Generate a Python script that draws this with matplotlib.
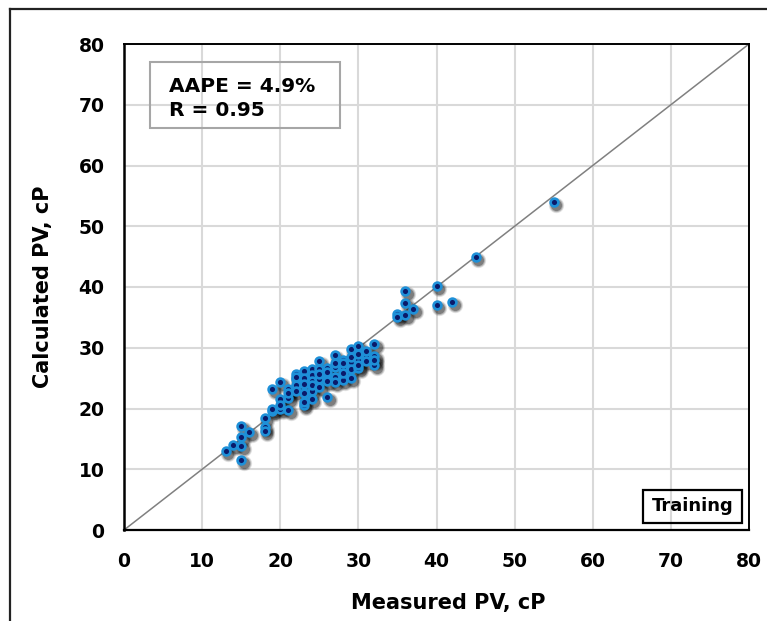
import matplotlib
matplotlib.use("Agg")
import matplotlib.pyplot as plt
import matplotlib.transforms as mtransforms
from matplotlib.lines import Line2D
from matplotlib.patches import Rectangle

# Data
measured = [13, 14, 15, 15, 15, 15, 16, 18, 18, 18, 19, 19, 19, 20, 20, 20, 20,
            21, 21, 21, 21, 22, 22, 22, 22, 22, 23, 23, 23, 23, 23, 23,
            24, 24, 24, 24, 24, 24, 25, 25, 25, 25, 25, 26, 26, 26, 26, 26,
            27, 27, 27, 27, 27, 28, 28, 28, 28, 28, 29, 29, 29, 29, 29,
            30, 30, 30, 30, 30, 31, 31, 31, 32, 32, 32, 32,
            35, 35, 36, 36, 36, 37, 40, 40, 42, 45, 55]
calculated = [13.0, 14.0, 13.8, 11.6, 15.3, 17.2, 16.1, 18.4, 16.9, 16.3, 23.2, 19.6, 19.9,
              24.4, 21.5, 19.9, 20.5, 23.2, 21.7, 19.8, 22.5, 25.7, 24.8, 23.9, 22.9, 25.2,
              26.2, 25.1, 24.0, 22.6, 20.6, 21.0, 26.5, 25.5, 24.6, 22.9, 21.5, 23.8,
              27.8, 26.5, 24.8, 23.5, 25.6, 26.7, 21.9, 25.5, 24.5, 26.0,
              28.8, 26.8, 25.2, 24.3, 27.5, 26.9, 24.7, 25.8, 28.0, 27.5,
              29.8, 27.6, 26.5, 25.0, 28.4, 30.3, 28.0, 26.6, 27.2, 29.0,
              28.8, 27.8, 29.5, 30.6, 28.7, 27.2, 28.0,
              35.6, 35.1, 39.3, 37.4, 35.4, 36.4, 40.2, 37.0, 37.5, 45.0, 54.0]
ticks = [0, 10, 20, 30, 40, 50, 60, 70, 80]
line_xy = [0, 80]

W, H = 767, 621
fig = plt.figure(figsize=(W/100, H/100), dpi=100)
L, R, T, B = 124, 749, 44, 530
ax = fig.add_axes([L/W, 1-B/H, (R-L)/W, (B-T)/H])

def axx(px):
    return (px - L) / (R - L)

def axy(py):
    return (B - py) / (B - T)

ax.set_xlim(0, 80)
ax.set_ylim(0, 80)
ax.set_xticks(ticks)
ax.set_yticks(ticks)
ax.grid(True, color='#d9d9d9', linewidth=1.5)
ax.set_axisbelow(True)
ax.tick_params(length=0, labelsize=13.5)
ax.tick_params(axis='y', pad=14)
ax.tick_params(axis='x', pad=16)
for lab in ax.get_xticklabels() + ax.get_yticklabels():
    lab.set_fontweight('bold')
for s in ax.spines.values():
    s.set_color('black')
    s.set_linewidth(1.4)
ax.spines['left'].set_linewidth(1.8)
ax.spines['bottom'].set_linewidth(1.6)

ax.plot(line_xy, line_xy, color='#808080', linewidth=1.1, zorder=2)

# soft shadow (layers)
shadow_tr = mtransforms.offset_copy(ax.transData, fig=fig, x=1.8, y=-2.2, units='points')
for ms, a in [(11.0, 0.12), (9.5, 0.20), (8.0, 0.30)]:
    ax.plot(measured, calculated, linestyle='none', marker='o', markersize=ms,
            markerfacecolor='#000000', markeredgecolor='none', alpha=a,
            transform=shadow_tr, zorder=3)
ax.plot(measured, calculated, linestyle='none', marker='o', markersize=5.6,
        markerfacecolor='#0a1a6a', markeredgecolor='#1e90d8', markeredgewidth=1.9,
        zorder=4)

ax.set_xlabel('Measured PV, cP', fontsize=15, fontweight='bold')
ax.set_ylabel('Calculated PV, cP', fontsize=15, fontweight='bold')
ax.xaxis.set_label_coords(axx(448), axy(603))
ax.xaxis.label.set_va('center')
ax.yaxis.set_label_coords(axx(43), 0.5)
ax.yaxis.label.set_va('center')

# AAPE box
ax.add_patch(Rectangle((axx(150), axy(128)), axx(340) - axx(150), axy(62) - axy(128),
                       transform=ax.transAxes, facecolor='none', edgecolor='#a6a6a6',
                       linewidth=1.5, zorder=5))
ax.text(axx(169), axy(87), 'AAPE = 4.9%', transform=ax.transAxes, fontsize=14.5,
        fontweight='bold', va='center', ha='left', zorder=6)
ax.text(axx(169), axy(111), 'R = 0.95', transform=ax.transAxes, fontsize=14.5,
        fontweight='bold', va='center', ha='left', zorder=6)

# Training box
ax.add_patch(Rectangle((axx(643), axy(523)), axx(742) - axx(643), axy(490) - axy(523),
                       transform=ax.transAxes, facecolor='none', edgecolor='black',
                       linewidth=1.6, zorder=5))
ax.text(axx(692.5), axy(506), 'Training', transform=ax.transAxes, fontsize=13,
        fontweight='bold', va='center', ha='center', zorder=6)

# Outer frame
fig.add_artist(Line2D([10/W, 10/W], [0, 1-9/H], transform=fig.transFigure,
                      color='#222222', linewidth=1.6))
fig.add_artist(Line2D([10/W, 1], [1-9/H, 1-9/H], transform=fig.transFigure,
                      color='#222222', linewidth=1.6))

fig.savefig('out.png', dpi=100)
